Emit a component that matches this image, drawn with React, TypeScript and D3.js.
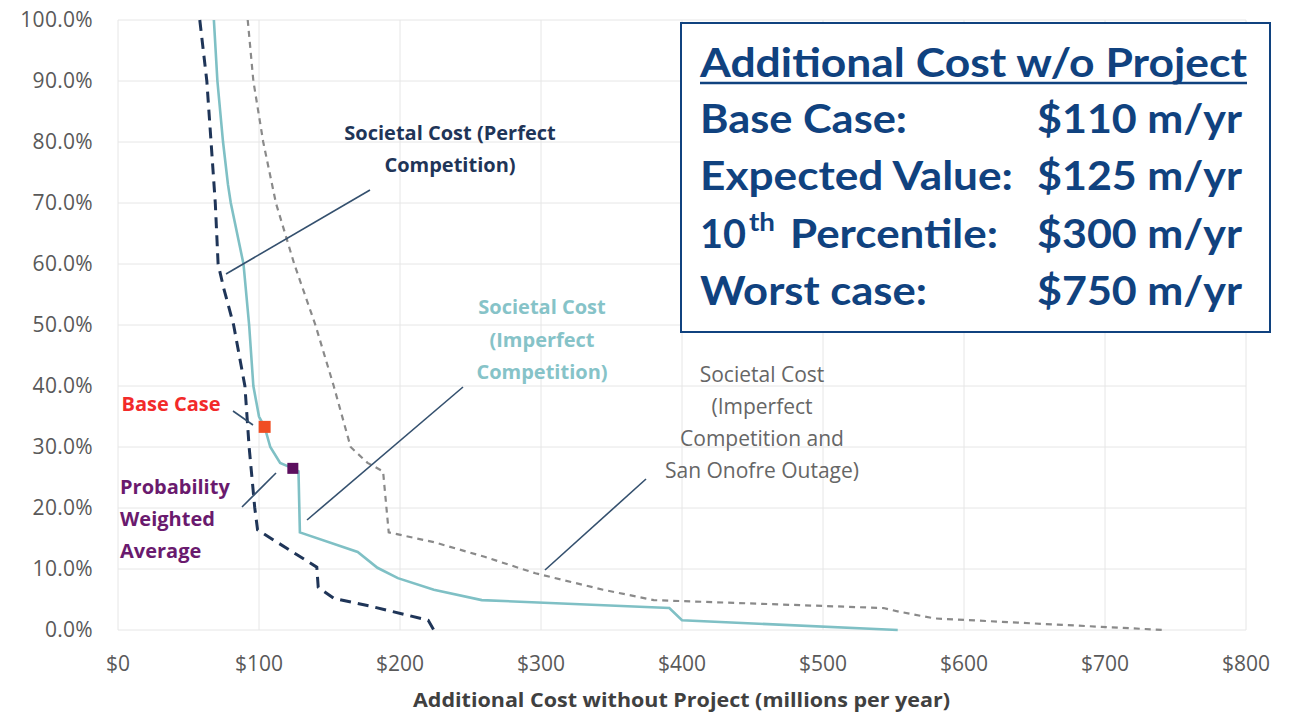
import * as d3 from 'd3';

// series: [cost $m/yr, probability %]
const perfectComp: [number, number][] = [
  [58, 100], [63, 90], [66, 80], [69, 70], [71, 60], [75, 56], [82, 50], [90, 40],
  [93, 30], [97, 20], [99, 16.4], [141, 10.3], [142, 7], [153, 5.2], [181, 3.8],
  [220, 1.6], [224, 0],
];
const imperfectComp: [number, number][] = [
  [68, 100], [70.5, 90], [74.5, 80], [78, 73], [80, 70], [89, 60], [93, 50], [96, 40],
  [100, 35], [104, 33.3], [108, 30], [115, 27.4], [124, 26.5], [128, 26], [129, 16],
  [170, 12.8], [184, 10.2], [198.5, 8.5], [224, 6.6], [258, 4.9], [391, 3.6],
  [400, 1.6], [553, 0],
];
const sanOnofre: [number, number][] = [
  [92, 100], [96, 90], [103, 80], [112, 70], [125, 60], [140, 50], [153, 40], [165, 30],
  [177, 27.4], [188, 26], [192, 16], [224, 14.4], [260, 12], [296, 9.3], [344, 6.6],
  [380, 4.9], [543, 3.6], [554, 3.0], [579, 1.9], [742, 0],
];
const baseCasePoint: [number, number] = [104, 33.3];
const weightedAvgPoint: [number, number] = [124, 26.5];

const xTicks = [0, 100, 200, 300, 400, 500, 600, 700, 800];
const yTicks = [0, 10, 20, 30, 40, 50, 60, 70, 80, 90, 100];

const boxTitle = 'Additional Cost w/o Project';
const boxLabels = ['Base Case:', 'Expected Value:', '10', 'Worst case:'];
const boxValues = ['$110 m/yr', '$125 m/yr', '$300 m/yr', '$750 m/yr'];

const FONT = '"Open Sans", Lato, sans-serif';

export default function App() {
  const width = 1297;
  const height = 713;

  const x = d3.scaleLinear().domain([0, 800]).range([118, 1246]);
  const y = d3.scaleLinear().domain([0, 100]).range([630, 20]);

  const line = d3
    .line<[number, number]>()
    .x(d => x(d[0]))
    .y(d => y(d[1]));

  const boxLeft = 700;
  const boxRows = [133, 190, 248, 305];
  const labelWidths = [207, 313, 0, 227];

  return (
    <svg
      width={width}
      height={height}
      style={{ position: 'absolute', left: 0, top: 0, background: '#fff' }}
      fontFamily={FONT}
    >
      {/* grid */}
      <g stroke="#e6e6e6" strokeWidth={1}>
        {yTicks.map(t => (
          <line key={'h' + t} x1={x(0)} x2={x(800)} y1={y(t)} y2={y(t)} />
        ))}
        {xTicks.map(t => (
          <line key={'v' + t} x1={x(t)} x2={x(t)} y1={y(0)} y2={y(100)} />
        ))}
      </g>

      {/* tick labels */}
      <g fill="#595959" fontSize={21}>
        {yTicks.map(t => (
          <text key={'yl' + t} x={93} y={y(t)} dy="0.35em" textAnchor="end" letterSpacing={0.3}>
            {t.toFixed(1) + '%'}
          </text>
        ))}
        {xTicks.map(t => (
          <text key={'xl' + t} x={x(t)} y={671} textAnchor="middle">
            {'$' + t}
          </text>
        ))}
      </g>
      <text x={413} y={707} fontSize={20} fontWeight="bold" fill="#404040" textLength={537} lengthAdjust="spacingAndGlyphs">
        Additional Cost without Project (millions per year)
      </text>

      {/* series */}
      <path d={line(sanOnofre) || ''} fill="none" stroke="#8a8a8a" strokeWidth={2.2} strokeDasharray="6,5" />
      <path d={line(imperfectComp) || ''} fill="none" stroke="#7fc0c5" strokeWidth={2.6} />
      <path d={line(perfectComp) || ''} fill="none" stroke="#1f3558" strokeWidth={3} strokeDasharray="11,7" />

      {/* markers */}
      <rect x={x(baseCasePoint[0]) - 6} y={y(baseCasePoint[1]) - 6} width={12} height={12} fill="#f04e23" />
      <rect x={x(weightedAvgPoint[0]) - 5.5} y={y(weightedAvgPoint[1]) - 5.5} width={11} height={11} fill="#5c0f5e" />

      {/* leader lines */}
      <g stroke="#34506e" strokeWidth={1.6}>
        <line x1={370} y1={190} x2={226} y2={274} />
        <line x1={463} y1={387} x2={307} y2={520} />
        <line x1={646} y1={479} x2={545} y2={570} />
        <line x1={233} y1={411} x2={253} y2={425} />
        <line x1={242} y1={507} x2={276} y2={473} />
      </g>

      {/* annotations */}
      <g fontSize={20} fontWeight="bold" textAnchor="middle">
        <text fill="#1f3558" x={450} y={140}>Societal Cost (Perfect</text>
        <text fill="#1f3558" x={450} y={172}>Competition)</text>
        <g fill="#86c3c8">
          <text x={542} y={314}>Societal Cost</text>
          <text x={542} y={347}>(Imperfect</text>
          <text x={542} y={379}>Competition)</text>
        </g>
        <g fill="#666666" fontWeight="normal" fontSize={21}>
          <text x={762} y={382}>Societal Cost</text>
          <text x={762} y={414}>(Imperfect</text>
          <text x={762} y={446}>Competition and</text>
          <text x={762} y={478}>San Onofre Outage)</text>
        </g>
        <text fill="#f22a2a" x={171} y={411}>Base Case</text>
      </g>
      <g fontSize={20} fontWeight="bold" fill="#6a1a6e">
        <text x={120} y={494}>Probability</text>
        <text x={120} y={526}>Weighted</text>
        <text x={120} y={558}>Average</text>
      </g>

      {/* summary box */}
      <rect x={681} y={23} width={589} height={309} fill="#fff" stroke="#10427f" strokeWidth={2} />
      <g fill="#10427f" fontWeight="bold" fontSize={40} fontFamily='Lato, "Open Sans", sans-serif'>
        <text x={boxLeft} y={77} textLength={547} lengthAdjust="spacingAndGlyphs">{boxTitle}</text>
        <line x1={boxLeft} x2={1247} y1={83} y2={83} stroke="#10427f" strokeWidth={2.5} />
        {boxLabels.map((lab, i) =>
          lab === '10' ? (
            <g key={lab}>
              <text x={boxLeft} y={boxRows[i]} textLength={46} lengthAdjust="spacingAndGlyphs">10</text>
              <text x={749} y={boxRows[i] - 17} fontSize={24} textLength={26} lengthAdjust="spacingAndGlyphs">th</text>
              <text x={790} y={boxRows[i]} textLength={208} lengthAdjust="spacingAndGlyphs">Percentile:</text>
            </g>
          ) : (
            <text key={lab} x={boxLeft} y={boxRows[i]} textLength={labelWidths[i]} lengthAdjust="spacingAndGlyphs">
              {lab}
            </text>
          )
        )}
        {boxValues.map((v, i) => (
          <text key={v} x={1037} y={boxRows[i]} textLength={205} lengthAdjust="spacingAndGlyphs">{v}</text>
        ))}
      </g>
    </svg>
  );
}
